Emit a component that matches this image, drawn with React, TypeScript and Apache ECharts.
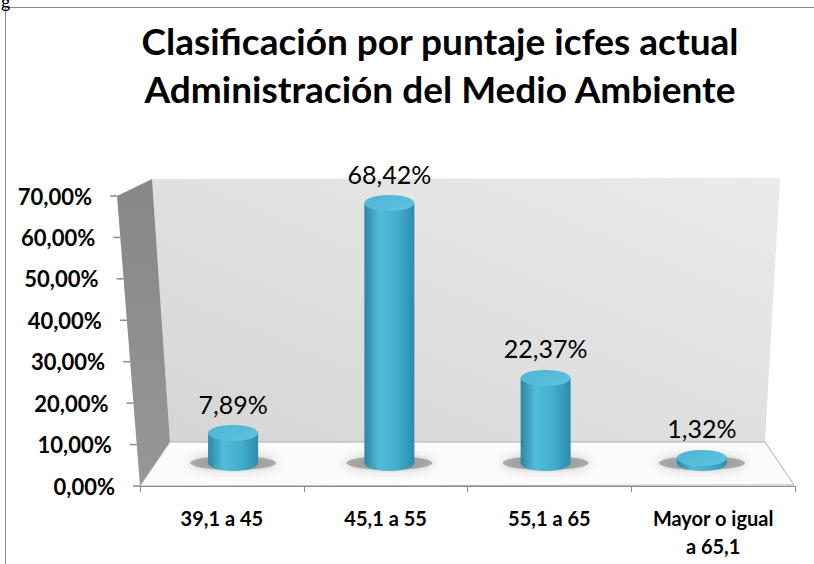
import React, { useEffect, useRef } from "react";
import * as echarts from "echarts";

// ---------- data ----------
const titleLines = [
  "Clasificación por puntaje icfes actual",
  "Administración del Medio Ambiente",
];
const categories = ["39,1 a 45", "45,1 a 55", "55,1 a 65", "Mayor o igual\na 65,1"];
const percentages = [7.89, 68.42, 22.37, 1.32];
const yTickValues = [0, 10, 20, 30, 40, 50, 60, 70];

const fmt = (v: number) => v.toFixed(2).replace(".", ",") + "%";

export default function App() {
  const ref = useRef<HTMLDivElement>(null);

  useEffect(() => {
    const chart = echarts.init(ref.current!, null, { renderer: "svg" });
    const FONT = "Lato, 'Open Sans', 'DejaVu Sans', sans-serif";

    const bodyGrad = new echarts.graphic.LinearGradient(0, 0, 1, 0, [
      { offset: 0, color: "#2a87a5" },
      { offset: 0.3, color: "#52bbd8" },
      { offset: 0.65, color: "#43aecd" },
      { offset: 1, color: "#2c8cab" },
    ]);
    const topGrad = new echarts.graphic.LinearGradient(0, 0, 1, 1, [
      { offset: 0, color: "#4fb4d2" },
      { offset: 1, color: "#5fc3de" },
    ]);

    chart.setOption({
      animation: false,
      backgroundColor: "#ffffff",
      title: {
        text: titleLines.join("\n"),
        left: 435,
        textAlign: "center",
        top: 11,
        textStyle: {
          fontSize: 37,
          fontWeight: "bold",
          fontFamily: FONT,
          color: "#000",
          lineHeight: 48,
        },
      },
      grid: [
        { left: 140, right: 19, top: 196, bottom: 78 },
        { left: 155, right: 34, top: 197, bottom: 101 },
      ],
      xAxis: [
        {
          type: "category",
          gridIndex: 0,
          data: categories,
          z: 5,
          axisLine: { lineStyle: { color: "#8c8c8c", width: 1 } },
          axisTick: { show: true, length: 6, lineStyle: { color: "#8c8c8c" } },
          axisLabel: {
            interval: 0,
            fontSize: 20,
            fontWeight: "bold",
            fontFamily: FONT,
            color: "#000",
            margin: 18,
            lineHeight: 28,
          },
        },
        { type: "category", gridIndex: 1, data: categories, show: false },
      ],
      yAxis: [
        {
          type: "value",
          gridIndex: 0,
          min: 0,
          max: 70,
          interval: 10,
          axisLine: { show: false },
          axisTick: { show: false },
          splitLine: { show: false },
          axisLabel: { show: false },
        },
        { type: "value", gridIndex: 1, min: 0, max: 70, show: false },
      ],
      series: [
        {
          type: "pictorialBar",
          xAxisIndex: 1,
          yAxisIndex: 1,
          data: percentages,
          symbol: "circle",
          symbolSize: [86, 14],
          symbolOffset: [0, 7],
          symbolPosition: "start",
          itemStyle: {
            color: "rgba(110,110,110,0.5)",
            shadowBlur: 10,
            shadowColor: "rgba(60,60,60,0.6)",
          },
          silent: true,
          z: 1,
        },
        {
          type: "pictorialBar",
          xAxisIndex: 1,
          yAxisIndex: 1,
          data: percentages,
          symbol: "circle",
          symbolSize: [50, 16],
          symbolOffset: [0, 8],
          symbolPosition: "start",
          itemStyle: { color: bodyGrad },
          silent: true,
          z: 2,
        },
        {
          type: "bar",
          xAxisIndex: 1,
          yAxisIndex: 1,
          data: percentages,
          barWidth: 50,
          itemStyle: { color: bodyGrad },
          silent: true,
          z: 3,
          label: {
            show: true,
            position: "top",
            distance: 17,
            formatter: (p: any) => fmt(p.value),
            fontSize: 25,
            fontFamily: FONT,
            color: "#000",
          },
        },
        {
          type: "pictorialBar",
          xAxisIndex: 1,
          yAxisIndex: 1,
          data: percentages,
          symbol: "circle",
          symbolSize: [50, 16],
          symbolOffset: [0, -8],
          symbolPosition: "end",
          itemStyle: { color: topGrad },
          silent: true,
          z: 4,
        },
      ],
    });

    // decoration: 3D walls, floor, frame, slanted ticks and tick labels
    const tickEls: any[] = [];
    yTickValues.forEach((v) => {
      const y = chart.convertToPixel({ yAxisIndex: 0 }, v) as number;
      const xEdge = 140 - (v / 70) * 23;
      tickEls.push({
        type: "line",
        z: -1,
        silent: true,
        shape: { x1: xEdge - 7, y1: y, x2: xEdge, y2: y },
        style: { stroke: "#8c8c8c", lineWidth: 1.5 },
      });
      tickEls.push({
        type: "text",
        z: 5,
        silent: true,
        x: xEdge - 25,
        y,
        style: {
          text: fmt(v),
          align: "right",
          verticalAlign: "middle",
          fontSize: 22,
          fontWeight: "bold",
          fontFamily: FONT,
          fill: "#000",
        },
      });
    });

    chart.setOption({
      graphic: {
        elements: [
          {
            type: "rect",
            z: -5,
            silent: true,
            shape: { x: 5.5, y: 7.5, width: 900, height: 700 },
            style: { fill: "none", stroke: "#8a8a8a", lineWidth: 1 },
          },
          {
            type: "text",
            z: -5,
            silent: true,
            x: 1,
            y: -8,
            style: { text: "g", fontSize: 18, fontFamily: FONT, fill: "#000" },
          },
          {
            type: "polygon",
            z: -4,
            silent: true,
            shape: { points: [[152, 179], [780, 178], [765, 442], [170, 442]] },
            style: {
              fill: new echarts.graphic.LinearGradient(0, 1, 1, 0, [
                { offset: 0, color: "#d5d5d5" },
                { offset: 1, color: "#ebebeb" },
              ]),
            },
          },
          {
            type: "polygon",
            z: -4,
            silent: true,
            shape: { points: [[117, 196], [152, 179], [170, 442], [140, 486]] },
            style: {
              fill: new echarts.graphic.LinearGradient(0, 0, 0, 1, [
                { offset: 0, color: "#878787" },
                { offset: 1, color: "#979797" },
              ]),
            },
          },
          {
            type: "polygon",
            z: -4,
            silent: true,
            shape: { points: [[140, 486], [170, 442], [765, 442], [794, 485]] },
            style: { fill: "#fbfbfb", stroke: "#b0b0b0", lineWidth: 1 },
          },
          ...tickEls,
        ],
      },
    });

    return () => chart.dispose();
  }, []);

  return (
    <div
      ref={ref}
      style={{ position: "absolute", left: 0, top: 0, width: 814, height: 564 }}
    />
  );
}
